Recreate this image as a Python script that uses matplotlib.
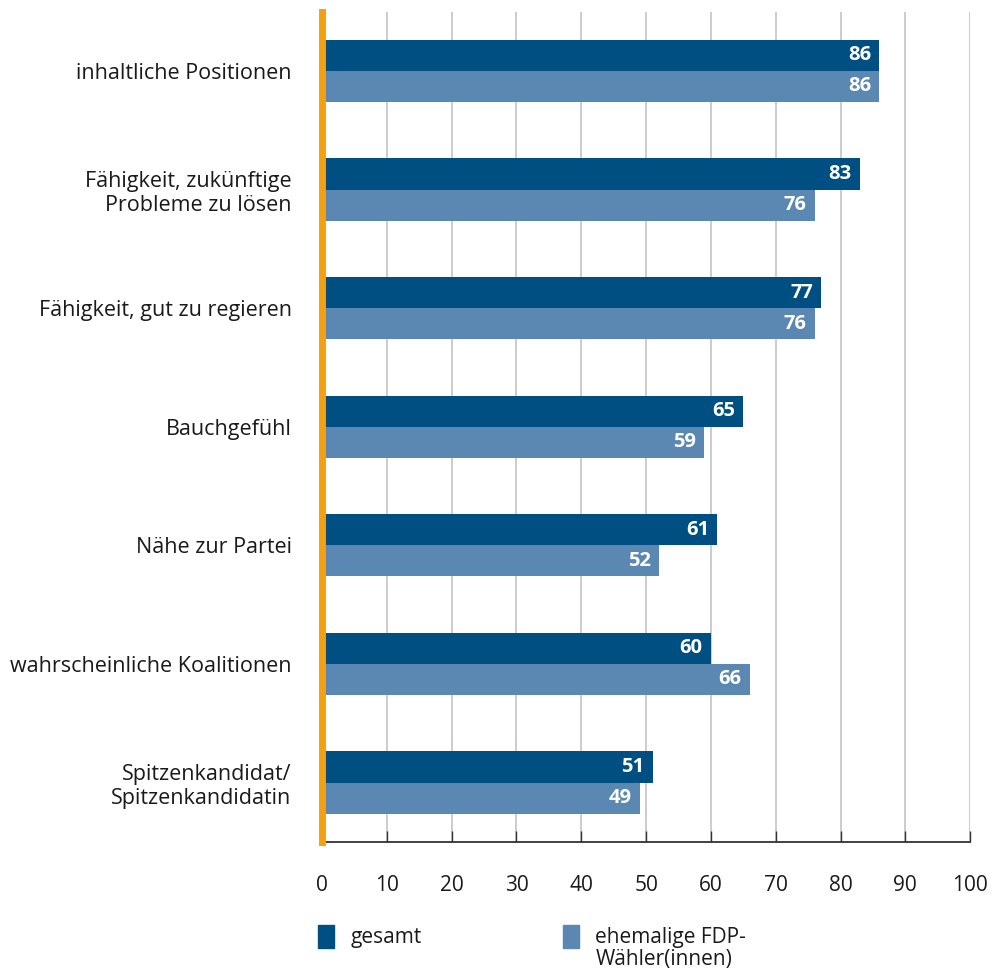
import matplotlib.pyplot as plt
from matplotlib.patches import Rectangle
import numpy as np

plt.rcParams['font.family'] = ['Open Sans', 'DejaVu Sans']

# Data
categories = [
    "inhaltliche Positionen",
    "Fähigkeit, zukünftige\nProbleme zu lösen",
    "Fähigkeit, gut zu regieren",
    "Bauchgefühl",
    "Nähe zur Partei",
    "wahrscheinliche Koalitionen",
    "Spitzenkandidat/\nSpitzenkandidatin",
]
gesamt = [86, 83, 77, 65, 61, 60, 51]
ehemalige_fdp = [86, 76, 76, 59, 52, 66, 49]
series_names = ["gesamt", "ehemalige FDP-\nWähler(innen)"]

DARK = "#004f83"
LIGHT = "#5b88b2"
ORANGE = "#f5a00f"
GRID = "#c8c8c8"
TEXT = "#1a1a1a"

fig = plt.figure(figsize=(9.94, 9.71), dpi=100)
ax = fig.add_axes([0.324, 0.133, 0.652, 0.855])

y = np.arange(len(categories))
h = 0.262
ax.barh(y - h / 2, gesamt, height=h, color=DARK, zorder=3)
ax.barh(y + h / 2, ehemalige_fdp, height=h, color=LIGHT, zorder=3)

# value labels inside bar ends
for yi, v in zip(y - h / 2, gesamt):
    ax.annotate(str(v), (v, yi), xytext=(-6, 0), textcoords="offset points",
                ha="right", va="center", color="white", fontweight="bold",
                fontsize=14.5, zorder=4)
for yi, v in zip(y + h / 2, ehemalige_fdp):
    ax.annotate(str(v), (v, yi), xytext=(-6, 0), textcoords="offset points",
                ha="right", va="center", color="white", fontweight="bold",
                fontsize=14.5, zorder=4)

ax.set_xlim(0, 100)
ax.set_ylim(len(categories) - 0.5, -0.5)
ax.set_xticks(np.arange(0, 101, 10))
ax.set_yticks(y)
ax.set_yticklabels(categories, fontsize=15.5, color=TEXT, linespacing=1.2)
ax.tick_params(axis="y", length=0, pad=22)
ax.tick_params(axis="x", direction="in", length=8, width=1, color="#333333",
               labelsize=15, labelcolor=TEXT, pad=24)

ax.grid(axis="x", color=GRID, linewidth=1.3, zorder=0)
for s in ["top", "right", "left"]:
    ax.spines[s].set_visible(False)
ax.spines["bottom"].set_color("#333333")
ax.spines["bottom"].set_linewidth(1.3)
ax.axvline(0, color=ORANGE, linewidth=5, zorder=5, clip_on=False)

# legend below the plot
for x0, name, col in [(0.32, series_names[0], DARK), (0.566, series_names[1], LIGHT)]:
    fig.add_artist(Rectangle((x0, 0.024), 0.016, 0.023, transform=fig.transFigure,
                             color=col))
    fig.text(x0 + 0.033, 0.0455, name, fontsize=15, color=TEXT,
             ha="left", va="top", linespacing=1.1)

fig.savefig("out.png", dpi=100)
